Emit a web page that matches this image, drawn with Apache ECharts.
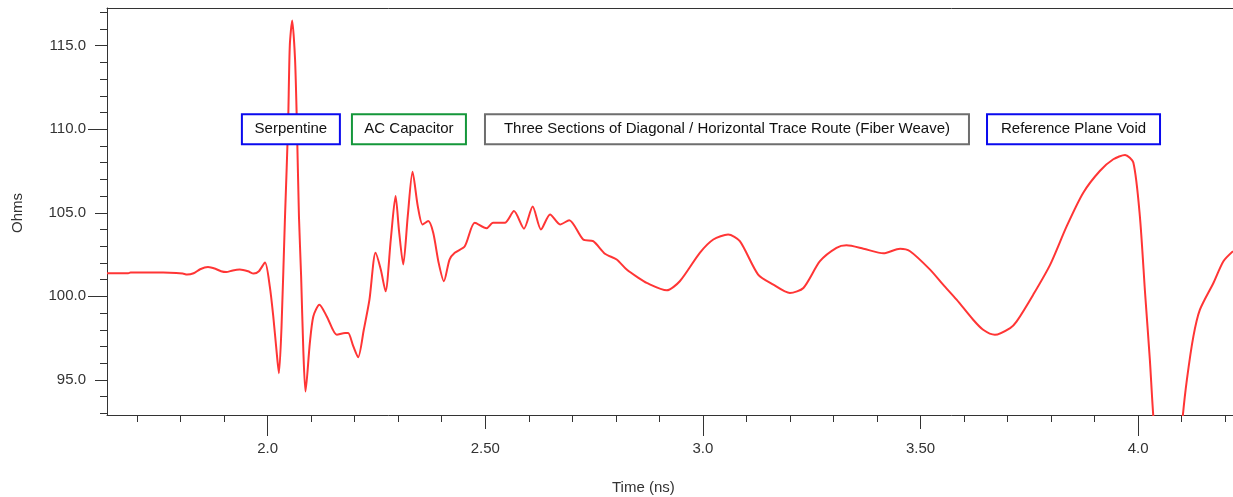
<!DOCTYPE html>
<html>
<head>
<meta charset="utf-8">
<title>TDR impedance profile</title>
<script src="https://cdn.jsdelivr.net/npm/echarts@6/dist/echarts.min.js"></script>
<style>
  html, body { margin: 0; padding: 0; background: #ffffff; }
  #chart { width: 1233px; height: 497px; }
</style>
</head>
<body>
<div id="chart"></div>
<script>
// Measured impedance along the trace
const timeNs = [
  1.631, 1.680, 1.685, 1.760, 1.790, 1.805, 1.815, 1.830, 1.845, 1.863,
  1.880, 1.893, 1.905, 1.920, 1.936, 1.955, 1.968, 1.980, 1.994, 2.005,
  2.013, 2.021, 2.026, 2.032, 2.040, 2.047, 2.051, 2.0565, 2.063, 2.067,
  2.072, 2.077, 2.082, 2.087, 2.097, 2.105, 2.119, 2.136, 2.159, 2.178,
  2.185, 2.197, 2.208, 2.221, 2.234, 2.248, 2.260, 2.271, 2.283, 2.294,
  2.302, 2.3116, 2.322, 2.333, 2.345, 2.356, 2.369, 2.3805, 2.393, 2.405,
  2.418, 2.430, 2.453, 2.476, 2.503, 2.518, 2.545, 2.566, 2.589, 2.609,
  2.628, 2.649, 2.672, 2.693, 2.725, 2.748, 2.775, 2.802, 2.825, 2.852,
  2.871, 2.917, 2.947, 2.993, 3.024, 3.058, 3.085, 3.127, 3.162, 3.200,
  3.231, 3.269, 3.307, 3.330, 3.369, 3.415, 3.453, 3.476, 3.522, 3.552,
  3.583, 3.621, 3.644, 3.671, 3.706, 3.721, 3.759, 3.798, 3.836, 3.874,
  3.912, 3.943, 3.970, 3.989, 4.004, 4.016, 4.027, 4.035, 4.050, 4.069,
  4.088, 4.1025, 4.112, 4.127, 4.142, 4.173, 4.196, 4.218
];
const impedanceOhms = [
  101.38, 101.38, 101.42, 101.42, 101.40, 101.36, 101.30, 101.38, 101.62, 101.75,
  101.65, 101.50, 101.45, 101.55, 101.60, 101.50, 101.36, 101.50, 102.02, 100.60,
  98.80, 96.60, 95.40, 98.20, 104.80, 110.20, 115.00, 116.50, 114.20, 110.60,
  104.80, 101.20, 96.80, 94.30, 97.20, 98.80, 99.50, 98.80, 97.70, 97.80,
  97.80, 97.00, 96.35, 98.00, 99.80, 102.60, 101.60, 100.30, 103.40, 106.00,
  103.90, 101.90, 104.80, 107.45, 105.40, 104.30, 104.50, 103.80, 102.00, 100.90,
  102.20, 102.60, 103.00, 104.40, 104.07, 104.40, 104.40, 105.10, 104.05, 105.37,
  104.00, 104.90, 104.30, 104.55, 103.40, 103.30, 102.55, 102.20, 101.60, 101.10,
  100.80, 100.36, 100.90, 102.60, 103.40, 103.70, 103.30, 101.30, 100.70, 100.20,
  100.50, 102.10, 102.90, 103.05, 102.85, 102.57, 102.85, 102.70, 101.60, 100.70,
  99.80, 98.60, 98.00, 97.70, 98.10, 98.50, 100.10, 101.90, 104.20, 106.20,
  107.50, 108.20, 108.46, 108.00, 104.80, 100.20, 96.20, 92.80, 88.50, 86.50,
  88.50, 92.80, 95.00, 97.60, 99.20, 100.80, 102.10, 102.70
];

// Axis ticks and their printed labels
const xTickValues = [2.0, 2.5, 3.0, 3.5, 4.0];
const xTickLabels = ['2.0', '2.50', '3.0', '3.50', '4.0'];
const yTickValues = [95, 100, 105, 110, 115];
const yTickLabels = ['95.0', '100.0', '105.0', '110.0', '115.0'];

// Region callouts, placed at 110 ohms
const calloutText = [
  'Serpentine',
  'AC Capacitor',
  'Three Sections of Diagonal / Horizontal Trace Route (Fiber Weave)',
  'Reference Plane Void'
];
const calloutTime = [2.0535, 2.3247, 3.0554, 3.8516];
const calloutOhms = 110;

// Presentation
const X_MIN = 1.631, X_MAX = 4.218;
const Y_MIN = 92.9, Y_MAX = 117.25;
const AXIS_COLOR = '#333333';
const FONT = "'Liberation Sans', Arial, sans-serif";
const calloutBorder = ['#0a0aee', '#14973a', '#6e6e6e', '#0a0aee'];
const calloutWidth = [98, 114, 484, 173];

function range(from, to, step) {
  const out = [];
  const n = Math.round((to - from) / step);
  for (let i = 0; i <= n; i++) out.push(+(from + i * step).toFixed(4));
  return out;
}

const chart = echarts.init(document.getElementById('chart'), null, { renderer: 'canvas' });

function tickAxisX(values, len, withLine, withLabels) {
  return {
    type: 'value', min: X_MIN, max: X_MAX, position: 'bottom',
    axisLine: { show: withLine, onZero: false, lineStyle: { color: AXIS_COLOR, width: 1 } },
    axisTick: { show: true, customValues: values, length: len, lineStyle: { color: AXIS_COLOR, width: 1 } },
    axisLabel: withLabels ? {
      show: true, customValues: xTickValues, margin: 26,
      color: AXIS_COLOR, fontFamily: FONT, fontSize: 15,
      formatter: v => xTickLabels[xTickValues.findIndex(t => Math.abs(t - v) < 1e-6)]
    } : { show: false },
    splitLine: { show: false }
  };
}

function tickAxisY(values, len, withLine, withLabels) {
  return {
    type: 'value', min: Y_MIN, max: Y_MAX, position: 'left',
    axisLine: { show: withLine, onZero: false, lineStyle: { color: AXIS_COLOR, width: 1 } },
    axisTick: { show: true, customValues: values, length: len, lineStyle: { color: AXIS_COLOR, width: 1 } },
    axisLabel: withLabels ? {
      show: true, customValues: yTickValues, margin: 21,
      color: AXIS_COLOR, fontFamily: FONT, fontSize: 15,
      formatter: v => yTickLabels[yTickValues.findIndex(t => Math.abs(t - v) < 1e-6)]
    } : { show: false },
    splitLine: { show: false }
  };
}

const option = {
  animation: false,
  backgroundColor: '#ffffff',
  grid: { left: 107, top: 8, right: 0, bottom: 82, containLabel: false },
  xAxis: [
    tickAxisX(range(1.7, 4.2, 0.1), 7, true, true),
    tickAxisX([2.0, 2.5, 3.0, 3.5, 4.0], 14, false, false),
    tickAxisX([2.0, 3.0, 4.0], 21, false, false),
    {
      type: 'value', min: X_MIN, max: X_MAX, position: 'top',
      axisLine: { show: true, onZero: false, lineStyle: { color: AXIS_COLOR, width: 1 } },
      axisTick: { show: false }, axisLabel: { show: false }, splitLine: { show: false }
    }
  ],
  yAxis: [
    tickAxisY(range(93, 117, 1), 7, true, true),
    tickAxisY([95, 100, 105, 110, 115], 12, false, false),
    tickAxisY([100, 110], 19, false, false)
  ],
  series: [{
    name: 'Impedance',
    type: 'line',
    xAxisIndex: 0, yAxisIndex: 0,
    data: timeNs.map((t, i) => [t, impedanceOhms[i]]),
    showSymbol: false,
    symbol: 'none',
    smooth: 0.25,
    clip: true,
    lineStyle: { color: '#ff3535', width: 2 },
    silent: true,
    markPoint: {
      silent: true,
      symbol: 'rect',
      symbolSize: 1,
      itemStyle: { color: 'rgba(0,0,0,0)' },
      data: calloutText.map((txt, i) => ({
        name: txt,
        coord: [calloutTime[i], calloutOhms],
        label: {
          show: true,
          position: 'inside',
          formatter: '{b}',
          width: calloutWidth[i] - 2,
          height: 28,
          align: 'center',
          verticalAlign: 'middle',
          backgroundColor: '#ffffff',
          borderColor: calloutBorder[i],
          borderWidth: 2,
          color: '#111111',
          fontFamily: FONT,
          fontSize: 15
        }
      }))
    }
  }],
  graphic: [
    {
      type: 'text', left: 642 - 30, top: 480,
      style: { text: 'Time (ns)', fill: AXIS_COLOR, font: '15px ' + FONT }
    },
    {
      type: 'text', x: 18, y: 213, rotation: Math.PI / 2,
      style: { text: 'Ohms', fill: AXIS_COLOR, font: '15px ' + FONT, align: 'center', verticalAlign: 'middle' }
    }
  ]
};

chart.setOption(option);
</script>
</body>
</html>
